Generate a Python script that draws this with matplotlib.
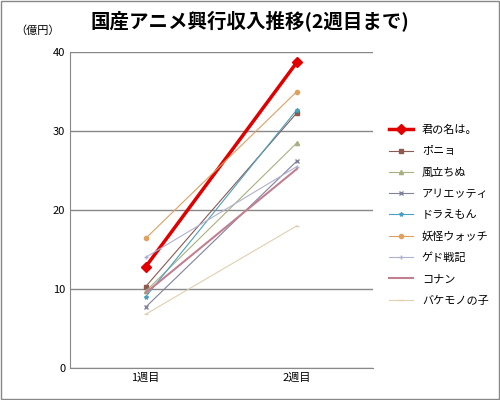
import matplotlib
matplotlib.use("Agg")
import matplotlib.pyplot as plt

plt.rcParams['font.family'] = ['Noto Sans CJK JP', 'DejaVu Sans']

weeks = ['1週目', '2週目']
titles = ['君の名は。', 'ポニョ', '風立ちぬ', 'アリエッティ', 'ドラえもん', '妖怪ウォッチ', 'ゲド戦記', 'コナン', 'バケモノの子']
week1 = [12.8, 10.3, 9.7, 7.7, 9.0, 16.4, 14.0, 9.5, 6.8]
week2 = [38.7, 32.3, 28.5, 26.2, 32.7, 35.0, 25.5, 25.2, 18.0]

colors = ['#e00000', '#8c5a50', '#a8b080', '#8080a0', '#4aa0c0', '#e0a060', '#b0b0d0', '#c08090', '#e0d0b0']
markers = ['D', 's', '^', 'x', '*', 'o', '+', '', '_']
widths = [2.5, 0.8, 0.8, 0.8, 0.8, 0.8, 0.8, 1.5, 0.8]

fig = plt.figure(figsize=(5, 4), dpi=100)
ax = fig.add_axes([0.14, 0.08, 0.605, 0.79])
x = [0, 1]
for i, t in enumerate(titles):
    ax.plot(x, [week1[i], week2[i]], color=colors[i], marker=markers[i] or None,
            markersize=5 if i == 0 else 3, linewidth=widths[i], label=t)
ax.set_xlim(-0.5, 1.5)
ax.set_ylim(0, 40)
ax.set_yticks(range(0, 41, 10))
ax.set_xticks(x)
ax.set_xticklabels(weeks, fontsize=8)
ax.tick_params(axis='y', labelsize=8, length=0)
ax.tick_params(axis='x', length=0)
ax.grid(axis='y', color='#888888', linewidth=1)
for s in ['top', 'right']:
    ax.spines[s].set_visible(False)
ax.spines['left'].set_color('#888888')
ax.spines['bottom'].set_color('#888888')
ax.set_axisbelow(True)
fig.text(0.03, 0.915, '（億円）', fontsize=8)
fig.suptitle('国産アニメ興行収入推移(2週目まで)', fontsize=14, fontweight='bold', y=0.975)
ax.legend(loc='upper left', bbox_to_anchor=(1.02, 0.8), frameon=False, fontsize=8,
          handlelength=2.2, labelspacing=1.0)
fig.patches.append(plt.Rectangle((0.002, 0.002), 0.996, 0.996, transform=fig.transFigure,
                                 fill=False, edgecolor='#888888', linewidth=1))
fig.savefig('out.png')
